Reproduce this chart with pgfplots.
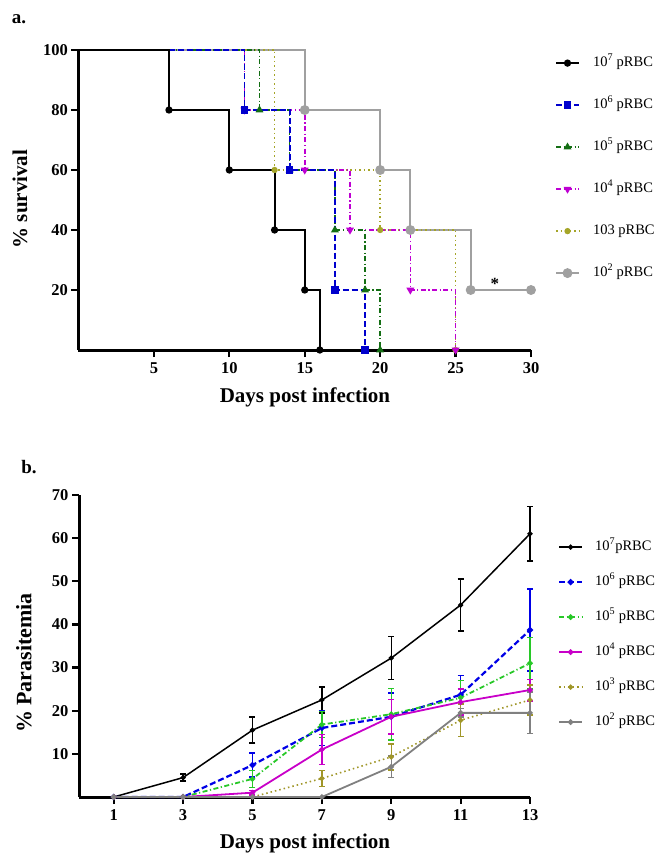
\documentclass[border=0pt]{standalone}
\usepackage{fontspec}
\setmainfont{Liberation Serif}
\usepackage{pgfplots}
\pgfplotsset{compat=1.18}

\definecolor{cblue}{RGB}{0,0,205}
\definecolor{cgreen}{RGB}{20,110,20}
\definecolor{cmag}{RGB}{190,0,210}
\definecolor{colive}{RGB}{165,165,40}
\definecolor{cgray}{RGB}{160,160,160}
\definecolor{bgreen}{RGB}{40,200,40}
\definecolor{bblue}{RGB}{0,0,230}
\definecolor{bmag}{RGB}{200,0,200}
\definecolor{bolive}{RGB}{160,150,40}
\definecolor{bgray}{RGB}{128,128,128}

\pgfplotsset{
  base/.style={
    scale only axis,
    axis x line*=bottom, axis y line*=left,
    axis line style={line width=3pt,-},
    xtick align=outside, ytick align=outside,
    major tick style={black, line width=2.2pt},
    major tick length=7pt, clip=false,
    /pgf/number format/assume math mode=true,
    tick label style={font=\bfseries\fontsize{16.5}{18}\selectfont},
    xticklabel style={yshift=-2pt},
    legend cell align=left,
    legend image code/.code={\draw[mark repeat=2,mark phase=2,##1] plot coordinates {(0pt,0pt) (11.5pt,0pt) (23pt,0pt)};},
  },
  dashA/.style={dash pattern=on 6pt off 3pt},
  dashdotA/.style={dash pattern=on 5pt off 2.5pt on 1.2pt off 2.5pt},
  dotA/.style={dash pattern=on 1.5pt off 3pt},
}

\begin{document}
\begin{tikzpicture}[x=1pt,y=1pt]
\useasboundingbox (0,-855) rectangle (657,0);

% ---- panel a: survival
\begin{axis}[base,
  at={(78.5pt,-350pt)}, anchor=south west,
  width=452.5pt, height=300pt,
  xmin=0, xmax=30, ymin=0, ymax=100,
  xtick={5,10,15,20,25,30}, ytick={20,40,60,80,100},
  reverse legend,
  legend style={draw=none, fill=none, at={(1.046,0.987)}, anchor=north west,
    font=\fontsize{14.5}{16}\selectfont, row sep=28pt, column sep=13pt,
    nodes={inner sep=0pt, text height=10pt, text depth=4pt}},
]
\addplot[const plot, color=cgray, line width=1.8pt, mark=*, mark size=4pt, mark phase=2]
  coordinates {(0,100) (15,80) (20,60) (22,40) (26,20) (30,20)};
\addplot[const plot, color=colive, line width=1.6pt, dotA, mark=*, mark size=2.3pt, mark options={solid}, mark phase=2]
  coordinates {(0,100) (13,60) (20,40) (25,0)};
\addplot[const plot, color=cmag, line width=1.6pt, dashdotA, mark=triangle*, mark size=3pt, mark options={solid,rotate=180}, mark phase=2]
  coordinates {(0,100) (11,80) (15,60) (18,40) (22,20) (25,0)};
\addplot[const plot, color=cgreen, line width=1.6pt, dashdotA, mark=triangle*, mark size=3pt, mark options={solid}, mark phase=2]
  coordinates {(0,100) (12,80) (14,60) (17,40) (19,20) (20,0)};
\addplot[const plot, color=cblue, line width=1.8pt, dashA, mark=square*, mark size=2.8pt, mark options={solid}, mark phase=2]
  coordinates {(0,100) (11,80) (14,60) (17,20) (19,0)};
\addplot[const plot, color=black, line width=2pt, mark=*, mark size=2.6pt, mark phase=2]
  coordinates {(0,100) (6,80) (10,60) (13,40) (15,20) (16,0)};
\legend{10\textsuperscript{2} pRBC, 103 pRBC, 10\textsuperscript{4} pRBC, 10\textsuperscript{5} pRBC, 10\textsuperscript{6} pRBC, 10\textsuperscript{7} pRBC}
\node[font=\bfseries\fontsize{17}{18}\selectfont] at (axis cs:27.6,22) {*};
\end{axis}

% ---- panel b: parasitemia
\begin{axis}[base,
  at={(79pt,-797pt)}, anchor=south west,
  width=451pt, height=302pt,
  xmin=0, xmax=13, ymin=0, ymax=70,
  xtick={1,3,5,7,9,11,13}, ytick={10,20,30,40,50,60,70},
  legend style={draw=none, fill=none, at={(1.055,0.858)}, anchor=north west,
    font=\fontsize{14.5}{16}\selectfont, row sep=21pt, column sep=12pt,
    nodes={inner sep=0pt, text height=10pt, text depth=4pt}},
  every axis plot/.append style={mark size=1.8pt,
    error bars/y dir=both, error bars/y explicit,
    error bars/error bar style={solid, line width=1.4pt},
    error bars/error mark options={solid, line width=1.4pt, mark size=3pt, rotate=90}},
]
\addplot[color=black, line width=1.5pt, mark=*]
  coordinates {(1,0) (3,4.5) +- (0,0.8) (5,15.5) +- (0,3) (7,22.5) +- (0,3) (9,32.2) +- (0,5) (11,44.5) +- (0,6) (13,61) +- (0,6.3)};
\addplot[color=bblue, line width=2.2pt, dashA, mark=*, mark options={solid}]
  coordinates {(1,0) (3,0) (5,7.4) +- (0,2.8) (7,16) +- (0,4) (9,18.6) +- (0,5.5) (11,23.7) +- (0,4.5) (13,38.7) +- (0,9.5)};
\addplot[color=bgreen, line width=1.8pt, dashdotA, mark=*, mark options={solid}]
  coordinates {(1,0) (3,0) (5,4.2) +- (0,2) (7,16.8) +- (0,3) (9,19.2) +- (0,6) (11,23) +- (0,4) (13,31) +- (0,6)};
\addplot[color=bmag, line width=1.8pt, mark=*]
  coordinates {(1,0) (3,0) (5,1) +- (0,0.5) (7,11) +- (0,3.5) (9,18.6) +- (0,4) (11,22) +- (0,3) (13,24.8) +- (0,2.5)};
\addplot[color=bolive, line width=1.6pt, dotA, mark=*, mark options={solid}]
  coordinates {(1,0) (3,0) (5,0) (7,4.3) +- (0,1.8) (9,9.3) +- (0,3) (11,17.8) +- (0,3.8) (13,22.5) +- (0,3.5)};
\addplot[color=bgray, line width=1.8pt, mark=*]
  coordinates {(1,0) (3,0) (5,0) (7,0) (9,7) +- (0,2.5) (11,19.5) +- (0,1) (13,19.5) +- (0,4.8)};
\legend{10\textsuperscript{7}pRBC, 10\textsuperscript{6} pRBC, 10\textsuperscript{5} pRBC, 10\textsuperscript{4} pRBC, 10\textsuperscript{3} pRBC, 10\textsuperscript{2} pRBC}
\end{axis}

% ---- titles and axis labels
\node[font=\bfseries\fontsize{19}{20}\selectfont] at (19,-19) {a.};
\node[font=\bfseries\fontsize{21}{24}\selectfont] at (305,-397) {Days post infection};
\node[font=\bfseries\fontsize{21}{24}\selectfont, rotate=90] at (20,-199) {\% survival};
\node[font=\bfseries\fontsize{19}{20}\selectfont] at (29,-467) {b.};
\node[font=\bfseries\fontsize{21}{24}\selectfont] at (305,-843) {Days post infection};
\node[font=\bfseries\fontsize{22}{24}\selectfont, rotate=90] at (24,-663) {\% Parasitemia};
\end{tikzpicture}
\end{document}
